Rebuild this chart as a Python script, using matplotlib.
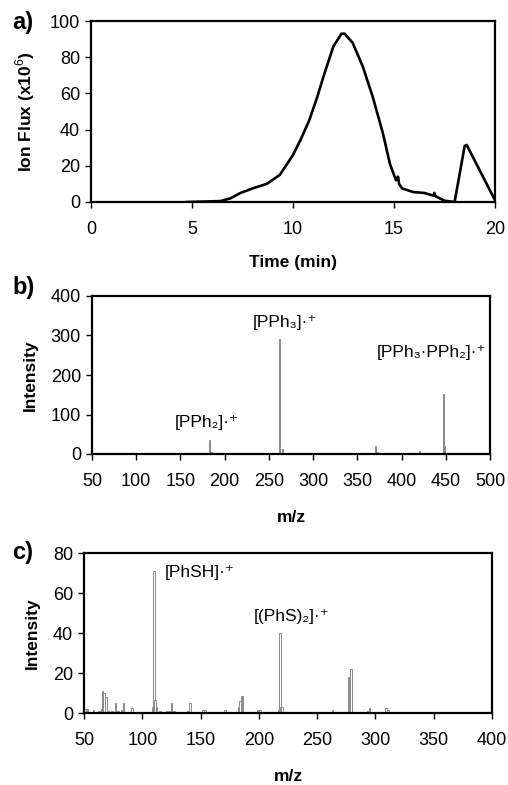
import matplotlib.pyplot as plt

plt.rcParams['font.family'] = ['Liberation Sans', 'DejaVu Sans']
plt.rcParams['mathtext.fontset'] = 'custom'
plt.rcParams['mathtext.rm'] = 'Liberation Sans'

# a) chromatogram
time_min = [4.75, 6.4, 6.9, 7.4, 8.0, 8.7, 9.35, 10.0, 10.4, 10.8, 11.2, 11.5, 12.0, 12.4, 12.55,
            12.95, 13.45, 13.95, 14.45, 14.8, 15.1, 15.2, 15.25, 15.4, 15.95, 16.5,
            16.95, 17.0, 17.05, 17.5, 18.0, 18.5, 18.6, 20.0]
ion_flux = [0, 0.5, 2, 5, 7.5, 10, 15, 26, 35, 45, 58, 69, 86, 93, 93,
            88, 75, 58, 38, 21, 12, 14, 10, 7.5, 5.5, 5,
            3.5, 5, 3.2, 0.7, 0, 31, 31.5, 1]

# b) mass spectrum (PPh3)
mz_b = [55, 78, 83, 152, 157, 183, 185, 262, 265, 371, 373, 400, 417, 420, 447, 449]
int_b = [2, 2, 2, 2, 2, 35, 5, 290, 12, 20, 5, 2, 3, 7, 152, 20]
labels_b = ['[PPh₂]·⁺', '[PPh₃]·⁺', '[PPh₃·PPh₂]·⁺']
label_pos_b = [(180, 81), (268, 334), (434, 258)]

# c) mass spectrum (PhSH)
mz_c = [51, 53, 58, 63, 65, 66, 67, 69, 71, 74, 77, 79, 82, 84, 91, 109, 110, 111, 112,
        115, 121, 123, 125, 127, 135, 139, 141, 147, 149, 152, 154, 171, 173, 183, 184,
        185, 186, 199, 201, 203, 217, 218, 219, 220, 263, 277, 278, 279, 281, 293, 295,
        309, 311, 371, 388]
int_c = [2, 2, 1.5, 1, 2, 11, 10, 8, 1, 1, 5, 1, 1.5, 5, 2.5, 3, 71, 6.5, 3,
         1, 1, 1, 5, 1, 0.5, 1, 5, 0.5, 0.5, 1.5, 1.5, 1.5, 0.5, 3, 6,
         8.5, 8.5, 1.5, 1.5, 0.5, 1.5, 40, 3, 3, 1.5, 18, 4, 22, 0.5, 1, 2.5,
         2.5, 1.5, 0.5, 0.5]
labels_c = ['[PhSH]·⁺', '[(PhS)₂]·⁺']
label_pos_c = [(149, 70.5), (228, 48)]

W, H = 508, 785
fig = plt.figure(figsize=(W / 100, H / 100), dpi=100)


def make_axes(left, top, right, bottom):
    return fig.add_axes([left / W, 1 - bottom / H, (right - left) / W, (bottom - top) / H])


def style(ax):
    for s in ax.spines.values():
        s.set_linewidth(1.6)
    ax.tick_params(labelsize=13, length=4, width=1, direction='out', pad=4)
    ax.tick_params(axis='x', pad=10)


# panel a
ax = make_axes(91, 21, 495, 202)
ax.plot(time_min, ion_flux, color='black', lw=1.9)
ax.set_xlim(0, 20)
ax.set_ylim(0, 100)
ax.set_xticks([0, 5, 10, 15, 20])
ax.set_yticks([0, 20, 40, 60, 80, 100])
style(ax)
ax.set_xlabel('Time (min)', fontsize=12.5, fontweight='bold', labelpad=12)
ax.set_ylabel('Ion Flux (x10$^6$)', fontsize=12.5, fontweight='bold', labelpad=9)
fig.text(12 / W, 1 - 22 / H, 'a)', fontsize=17, fontweight='bold', va='center')

# panel b
ax = make_axes(92, 296, 490, 454)
ax.bar(mz_b, int_b, width=1.3, facecolor='white', edgecolor='#8a8a8a', linewidth=0.7)
for txt, (x, y) in zip(labels_b, label_pos_b):
    ax.text(x, y, txt, fontsize=12.5, ha='center', va='center')
ax.set_xlim(50, 500)
ax.set_ylim(0, 400)
ax.set_xticks(range(50, 501, 50))
ax.set_yticks([0, 100, 200, 300, 400])
style(ax)
ax.set_xlabel('m/z', fontsize=12.5, fontweight='bold', labelpad=14)
ax.set_ylabel('Intensity', fontsize=12.5, fontweight='bold', labelpad=9)
fig.text(12 / W, 1 - 288 / H, 'b)', fontsize=17, fontweight='bold', va='center')

# panel c
ax = make_axes(84, 553, 492, 713)
ax.bar(mz_c, int_c, width=1.3, facecolor='white', edgecolor='#8a8a8a', linewidth=0.7)
for txt, (x, y) in zip(labels_c, label_pos_c):
    ax.text(x, y, txt, fontsize=12.5, ha='center', va='center')
ax.set_xlim(50, 400)
ax.set_ylim(0, 80)
ax.set_xticks(range(50, 401, 50))
ax.set_yticks([0, 20, 40, 60, 80])
style(ax)
ax.set_xlabel('m/z', fontsize=12.5, fontweight='bold', labelpad=14)
ax.set_ylabel('Intensity', fontsize=12.5, fontweight='bold', labelpad=9)
fig.text(12 / W, 1 - 553 / H, 'c)', fontsize=17, fontweight='bold', va='center')

fig.savefig('out.png', dpi=100)
